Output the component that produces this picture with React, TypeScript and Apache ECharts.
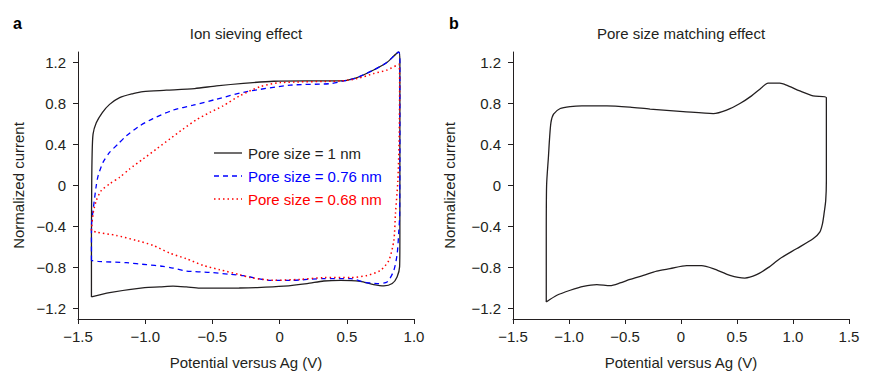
import React, { useEffect, useRef } from "react";
import * as echarts from "echarts";

const FONT = "'Liberation Sans', Arial, Helvetica, sans-serif";
const INK = "#231f20";
const BLUE = "#0000ff";
const RED = "#ff0000";

const yTicks = [-1.2, -0.8, -0.4, 0, 0.4, 0.8, 1.2];

const nameA1 = "Pore size = 1 nm";
const nameA2 = "Pore size = 0.76 nm";
const nameA3 = "Pore size = 0.68 nm";

// Panel a: pore size = 1 nm
const poreA100: number[][] = [
  [-1.40, -1.085], [-1.40, -0.5], [-1.398, 0.0], [-1.395, 0.3], [-1.388, 0.50], [-1.364, 0.61],
  [-1.319, 0.71], [-1.265, 0.79], [-1.19, 0.856], [-1.09, 0.895], [-1.016, 0.915], [-0.843, 0.928],
  [-0.632, 0.944], [-0.47, 0.97], [-0.27, 0.995], [-0.043, 1.015], [0.2, 1.018], [0.453, 1.018],
  [0.565, 1.045], [0.70, 1.125], [0.80, 1.20], [0.887, 1.30], [0.895, 1.2], [0.895, 0.5],
  [0.895, -0.5], [0.893, -0.79], [0.874, -0.89], [0.838, -0.955], [0.776, -0.978], [0.70, -0.965],
  [0.60, -0.933], [0.453, -0.923], [0.329, -0.93], [0.205, -0.955], [0.031, -0.98], [-0.167, -0.994],
  [-0.3, -0.998], [-0.594, -1.0], [-0.694, -0.988], [-0.793, -0.98], [-0.892, -0.988], [-1.004, -0.994],
  [-1.265, -1.043], [-1.40, -1.085],
];

// Panel a: pore size = 0.76 nm
const poreA076: number[][] = [
  [-1.40, -0.73], [-1.40, -0.40], [-1.388, -0.244], [-1.364, 0.0], [-1.35, 0.096], [-1.314, 0.225],
  [-1.265, 0.322], [-1.202, 0.404], [-1.14, 0.484], [-1.041, 0.58], [-0.942, 0.652], [-0.793, 0.734],
  [-0.644, 0.782], [-0.47, 0.84], [-0.26, 0.91], [0.081, 0.977], [0.379, 0.992], [0.478, 1.018],
  [0.565, 1.045], [0.70, 1.125], [0.80, 1.20], [0.887, 1.30], [0.895, 1.2], [0.895, 0.5],
  [0.893, -0.3], [0.887, -0.44], [0.875, -0.664], [0.85, -0.826], [0.80, -0.94], [0.726, -0.955],
  [0.627, -0.94], [0.528, -0.907], [0.329, -0.907], [0.081, -0.923], [-0.068, -0.923], [-0.27, -0.878],
  [-0.371, -0.865], [-0.52, -0.846], [-0.694, -0.833], [-0.793, -0.804], [-0.867, -0.787], [-0.99, -0.771],
  [-1.14, -0.752], [-1.35, -0.739], [-1.40, -0.73],
];

// Panel a: pore size = 0.68 nm
const poreA068: number[][] = [
  [-1.40, -0.438], [-1.388, -0.276], [-1.364, -0.147], [-1.327, -0.05], [-1.26, 0.02], [-1.19, 0.08],
  [-1.116, 0.161], [-1.016, 0.258], [-0.917, 0.355], [-0.818, 0.452], [-0.718, 0.55], [-0.619, 0.64],
  [-0.52, 0.711], [-0.42, 0.776], [-0.297, 0.873], [-0.143, 0.963], [0.006, 1.002], [0.453, 1.018],
  [0.577, 1.041], [0.70, 1.09], [0.80, 1.125], [0.887, 1.18], [0.893, 1.0], [0.89, 0.5],
  [0.88, 0.05], [0.862, -0.276], [0.85, -0.535], [0.813, -0.729], [0.751, -0.826], [0.652, -0.875],
  [0.528, -0.897], [0.329, -0.897], [0.155, -0.914], [-0.043, -0.923], [-0.217, -0.897], [-0.297, -0.868],
  [-0.446, -0.82], [-0.569, -0.778], [-0.694, -0.713], [-0.818, -0.658], [-0.942, -0.583], [-1.066, -0.535],
  [-1.215, -0.486], [-1.364, -0.454], [-1.40, -0.438],
];

// Panel b: pore size matching
const poreMatchB: number[][] = [
  [-1.203, -1.134], [-1.203, -0.5], [-1.200, 0.0], [-1.183, 0.29], [-1.174, 0.452], [-1.161, 0.614],
  [-1.138, 0.695], [-1.078, 0.75], [-0.989, 0.769], [-0.885, 0.776], [-0.662, 0.776], [-0.455, 0.763],
  [-0.276, 0.744], [0.02, 0.72], [0.288, 0.70], [0.407, 0.734], [0.526, 0.798], [0.63, 0.873],
  [0.704, 0.938], [0.778, 0.996], [0.882, 0.996], [0.942, 0.977], [1.061, 0.921], [1.179, 0.873],
  [1.298, 0.856], [1.298, 0.048], [1.292, -0.147], [1.277, -0.276], [1.263, -0.373], [1.239, -0.454],
  [1.179, -0.519], [1.031, -0.616], [0.882, -0.713], [0.778, -0.80], [0.675, -0.868], [0.57, -0.901],
  [0.437, -0.875], [0.288, -0.81], [0.184, -0.781], [0.051, -0.781], [-0.098, -0.81], [-0.217, -0.833],
  [-0.336, -0.875], [-0.455, -0.914], [-0.544, -0.949], [-0.633, -0.975], [-0.751, -0.965], [-0.871, -0.982],
  [-0.989, -1.02], [-1.108, -1.069], [-1.203, -1.134],
];

const fmt = (v: number) => {
  if (Math.abs(v) < 1e-9) return "0";
  const s = Math.abs(v).toFixed(1);
  return v < 0 ? "\u2212" + s : s;
};

const txt = { fontFamily: FONT, fontSize: 15, color: INK };

const lineStyles = {
  a1: { color: INK, width: 1.3, type: "solid" as any },
  a2: { color: BLUE, width: 1.3, type: [5, 4] as any },
  a3: { color: RED, width: 1.5, type: [1.5, 3] as any },
};

function xAxisDef(grid: number, min: number, max: number) {
  return {
    gridIndex: grid,
    type: "value",
    min,
    max,
    interval: 0.5,
    axisLine: { show: true, onZero: false, lineStyle: { color: INK, width: 1 } },
    axisTick: { show: true, inside: false, length: 5, lineStyle: { color: INK, width: 1 } },
    axisLabel: { ...txt, formatter: fmt, margin: 10 },
    splitLine: { show: false },
    name: "Potential versus Ag (V)",
    nameLocation: "middle",
    nameGap: 36,
    nameTextStyle: { ...txt },
  };
}

function yAxisDef(grid: number, gap: number) {
  return {
    gridIndex: grid,
    type: "value",
    min: -1.3,
    max: 1.3,
    axisLine: { show: true, onZero: false, lineStyle: { color: INK, width: 1 } },
    axisTick: { show: true, inside: false, length: 5, customValues: yTicks, lineStyle: { color: INK, width: 1 } },
    axisLabel: { ...txt, formatter: fmt, margin: 12, customValues: yTicks },
    splitLine: { show: false },
    name: "Normalized current",
    nameLocation: "middle",
    nameGap: gap,
    nameRotate: 90,
    nameTextStyle: { ...txt },
  };
}

function legendEntry(y: number, label: string, ls: any, color: string) {
  return [
    {
      type: "line",
      shape: { x1: 214, y1: y, x2: 242, y2: y },
      style: { stroke: ls.color, lineWidth: ls.width, lineDash: ls.type === "solid" ? null : ls.type },
    },
    {
      type: "text",
      x: 248,
      y,
      style: { text: label, font: `15px ${FONT}`, fill: color, textVerticalAlign: "middle" },
    },
  ];
}

export default function App() {
  const ref = useRef<HTMLDivElement>(null);
  useEffect(() => {
    if (!ref.current) return;
    const chart = echarts.init(ref.current, undefined, { renderer: "svg" });
    chart.setOption({
      animation: false,
      backgroundColor: "#ffffff",
      grid: [
        { left: 78, top: 52, width: 336, height: 267, containLabel: false },
        { left: 513, top: 52, width: 336, height: 267, containLabel: false },
      ],
      xAxis: [xAxisDef(0, -1.5, 1.0), xAxisDef(1, -1.5, 1.5)],
      yAxis: [yAxisDef(0, 52), yAxisDef(1, 56)],
      graphic: [
        { type: "text", x: 13, y: 23, style: { text: "a", font: `bold 16px ${FONT}`, fill: "#000", textVerticalAlign: "middle" } },
        { type: "text", x: 449, y: 23, style: { text: "b", font: `bold 16px ${FONT}`, fill: "#000", textVerticalAlign: "middle" } },
        { type: "text", x: 246, y: 33, style: { text: "Ion sieving effect", font: `15px ${FONT}`, fill: INK, textAlign: "center", textVerticalAlign: "middle" } },
        { type: "text", x: 681, y: 33, style: { text: "Pore size matching effect", font: `15px ${FONT}`, fill: INK, textAlign: "center", textVerticalAlign: "middle" } },
        ...legendEntry(153, nameA1, lineStyles.a1, INK),
        ...legendEntry(176, nameA2, lineStyles.a2, BLUE),
        ...legendEntry(199, nameA3, lineStyles.a3, RED),
      ],
      series: [
        {
          name: nameA1, type: "line", xAxisIndex: 0, yAxisIndex: 0, data: poreA100,
          symbol: "none", smooth: 0.25, lineStyle: lineStyles.a1, itemStyle: { color: INK },
        },
        {
          name: nameA2, type: "line", xAxisIndex: 0, yAxisIndex: 0, data: poreA076,
          symbol: "none", smooth: 0.25, lineStyle: lineStyles.a2, itemStyle: { color: BLUE },
        },
        {
          name: nameA3, type: "line", xAxisIndex: 0, yAxisIndex: 0, data: poreA068,
          symbol: "none", smooth: 0.25, lineStyle: lineStyles.a3, itemStyle: { color: RED },
        },
        {
          name: "Pore size matching", type: "line", xAxisIndex: 1, yAxisIndex: 1, data: poreMatchB,
          symbol: "none", smooth: 0.25, lineStyle: lineStyles.a1, itemStyle: { color: INK },
        },
      ],
    });
    return () => chart.dispose();
  }, []);
  return (
    <div
      ref={ref}
      style={{ position: "fixed", left: 0, top: 0, width: 869, height: 386, background: "#fff" }}
    />
  );
}
